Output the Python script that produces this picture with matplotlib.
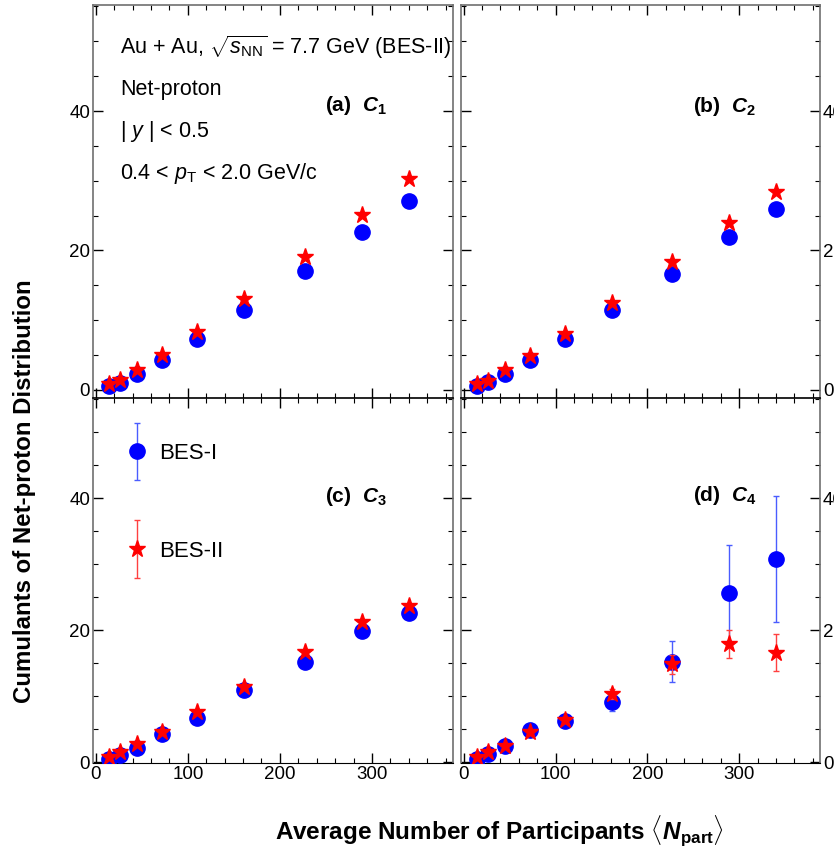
"""
Net-proton cumulants C1..C4 vs <Npart>, Au+Au 7.7 GeV, BES-I vs BES-II
"""

import numpy as np
import matplotlib
matplotlib.use("Agg")
import matplotlib.pyplot as plt
from matplotlib.container import ErrorbarContainer
from matplotlib.legend_handler import HandlerErrorbar
from matplotlib.ticker import MultipleLocator

plt.rcParams['font.family'] = ['Liberation Sans', 'DejaVu Sans']
plt.rcParams['mathtext.fontset'] = 'custom'
plt.rcParams['mathtext.rm'] = 'Liberation Sans'
plt.rcParams['mathtext.it'] = 'Liberation Sans:italic'
plt.rcParams['mathtext.bf'] = 'Liberation Sans:bold'
plt.rcParams['mathtext.bfit'] = 'Liberation Sans:bold:italic'

# --- data ---
npart = [14, 26, 45, 72, 110, 161, 227, 289, 340]

c1_bes1 = [0.6, 1.0, 2.3, 4.3, 7.3, 11.5, 17.1, 22.6, 27.1]
c1_bes2 = [0.8, 1.5, 2.9, 5.0, 8.3, 13.0, 19.1, 25.1, 30.2]
c2_bes1 = [0.5, 1.1, 2.3, 4.3, 7.3, 11.4, 16.7, 21.9, 25.9]
c2_bes2 = [0.8, 1.3, 2.8, 4.9, 8.0, 12.4, 18.4, 24.0, 28.4]
c3_bes1 = [0.5, 1.0, 2.2, 4.2, 6.7, 10.9, 15.2, 19.9, 22.6]
c3_bes2 = [0.8, 1.5, 2.7, 4.6, 7.6, 11.4, 16.7, 21.2, 23.7]
c4_bes1 = [0.5, 1.2, 2.4, 4.8, 6.2, 9.1, 15.2, 25.6, 30.8]
c4_bes2 = [0.8, 1.5, 2.4, 4.6, 6.4, 10.3, 14.8, 17.9, 16.6]

c1_bes1_err = [0.05, 0.05, 0.05, 0.05, 0.05, 0.1, 0.1, 0.1, 0.15]
c1_bes2_err = [0.02, 0.02, 0.02, 0.03, 0.03, 0.04, 0.05, 0.05, 0.06]
c2_bes1_err = [0.05, 0.05, 0.05, 0.1, 0.1, 0.1, 0.15, 0.2, 0.2]
c2_bes2_err = [0.02, 0.02, 0.03, 0.03, 0.04, 0.05, 0.06, 0.07, 0.08]
c3_bes1_err = [0.05, 0.1, 0.1, 0.15, 0.2, 0.3, 0.4, 0.5, 0.6]
c3_bes2_err = [0.03, 0.04, 0.05, 0.06, 0.08, 0.1, 0.15, 0.2, 0.2]
c4_bes1_err = [0.1, 0.2, 0.3, 0.5, 0.8, 1.4, 3.1, 7.3, 9.6]
c4_bes2_err = [0.1, 0.1, 0.2, 0.3, 0.5, 0.8, 1.5, 2.1, 2.75]

panel_tags = ['(a)', '(b)', '(c)', '(d)']
cumulant_order = ['1', '2', '3', '4']

series = [
    (c1_bes1, c1_bes1_err, c1_bes2, c1_bes2_err),
    (c2_bes1, c2_bes1_err, c2_bes2, c2_bes2_err),
    (c3_bes1, c3_bes1_err, c3_bes2, c3_bes2_err),
    (c4_bes1, c4_bes1_err, c4_bes2, c4_bes2_err),
]

W, H = 834, 851
fig = plt.figure(figsize=(W / 100, H / 100), dpi=100)
fig.patch.set_facecolor('white')

def px_rect(x0, y0, x1, y1):
    # pixel box (top-left origin) -> figure fraction rect
    return [x0 / W, 1 - y1 / H, (x1 - x0) / W, (y1 - y0) / H]

rects = [
    px_rect(93, 5, 453, 398),
    px_rect(461, 5, 820, 398),
    px_rect(93, 398, 453, 763),
    px_rect(461, 398, 820, 763),
]
ylims = [(-1.15, 55.2), (-1.15, 55.2), (-0.15, 55.2), (-0.15, 55.2)]
tag_pos = [(0.644, 0.745), (0.646, 0.742), (0.644, 0.729), (0.646, 0.734)]

blue = '#0000ff'
red = '#ff0000'

axes = []
for i, rect in enumerate(rects):
    ax = fig.add_axes(rect)
    axes.append(ax)
    b1, e1, b2, e2 = series[i]
    h1 = ax.errorbar(npart, b1, yerr=e1, fmt='o', color=blue, ecolor='#4a5cff',
                     ms=11, elinewidth=1, capsize=2, capthick=1, zorder=3)
    h2 = ax.errorbar(npart, b2, yerr=e2, fmt='*', color=red, ecolor='#ff4040',
                     ms=12.5, elinewidth=1, capsize=2, capthick=1, zorder=4)

    ax.set_xlim(-3, 388)
    ax.set_ylim(*ylims[i])
    ax.xaxis.set_major_locator(MultipleLocator(100))
    ax.xaxis.set_minor_locator(MultipleLocator(20))
    ax.yaxis.set_major_locator(MultipleLocator(20))
    ax.yaxis.set_minor_locator(MultipleLocator(5))
    ax.tick_params(which='both', direction='in', top=True, right=True,
                   labelsize=13.5, pad=2)
    ax.tick_params(which='major', length=7, width=1)
    ax.tick_params(which='minor', length=3.5, width=0.8)

    top_row = i < 2
    right_col = i % 2 == 1
    ax.tick_params(labelbottom=not top_row,
                   labelleft=not right_col, labelright=right_col)

    for side in ['left', 'right', 'top']:
        ax.spines[side].set_color('#707070')
        ax.spines[side].set_linewidth(1.2)
    ax.spines['bottom'].set_color('black')
    if not top_row:
        ax.spines['top'].set_color('black')

    tx, ty = tag_pos[i]
    label = panel_tags[i] + r'  $\mathbfit{C}_{\mathbf{' + cumulant_order[i] + '}}$'
    ax.text(tx, ty, label, transform=ax.transAxes, fontsize=15,
            fontweight='bold', va='center', ha='left')

    if i == 2:
        leg = ax.legend([h1, h2], ['BES-I', 'BES-II'], loc='upper left',
                        bbox_to_anchor=(0.03, 0.931), frameon=False,
                        fontsize=16, numpoints=1, handlelength=1.2,
                        handletextpad=0.4, labelspacing=3.45,
                        handler_map={ErrorbarContainer: HandlerErrorbar(xerr_size=0.0, yerr_size=1.3)})

# info text in panel (a)
ax = axes[0]
info = [
    r'Au + Au, $\sqrt{s_{\rm NN}}$ = 7.7 GeV (BES-II)',
    'Net-proton',
    r'| $y$ | < 0.5',
    r'0.4 < $p_{\rm T}$ < 2.0 GeV/c',
]
info_y = [0.893, 0.784, 0.678, 0.571]
for line, y in zip(info, info_y):
    ax.text(0.075, y, line, transform=ax.transAxes, fontsize=15.5,
            va='center', ha='left')

fig.text(25 / W, 1 - 491 / H, 'Cumulants of Net-proton Distribution',
         rotation=90, fontsize=17.3, fontweight='bold', ha='center', va='center')
fig.text(499 / W, 1 - 831 / H,
         r'Average Number of Participants $\langle\mathbfit{N}_{\mathbf{part}}\rangle$',
         fontsize=17.5, fontweight='bold', ha='center', va='center')

fig.savefig('out.png', dpi=100, facecolor='white')
